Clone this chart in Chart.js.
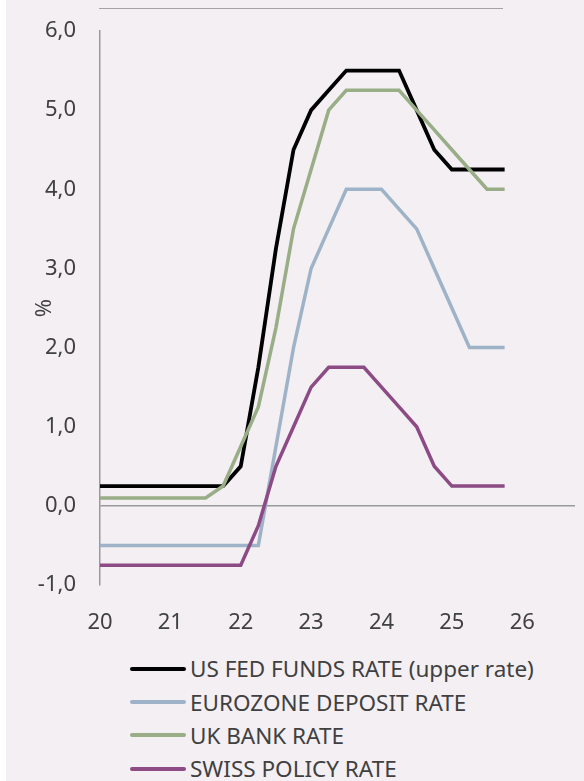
<!DOCTYPE html>
<html>
<head>
<meta charset="utf-8">
<script src="https://cdn.jsdelivr.net/npm/chart.js@4"></script>
<style>
  html, body { margin: 0; padding: 0; background: #ffffff; }
  #panel { position: absolute; left: 6px; top: 0; width: 578px; height: 781px; background: #f3eff3; overflow: hidden; }
  #topline { position: absolute; left: 93px; top: 8px; width: 404px; height: 0; border-top: 1.5px solid #a3a3a3; }
  #wrap { position: absolute; left: 0; top: 0; width: 578px; height: 650px; }
  #legend { position: absolute; left: 124px; top: 652px; font-family: "Noto Sans", sans-serif; font-size: 22.5px; color: #404040; }
  .item { height: 33.4px; display: flex; align-items: center; }
  .swatch { width: 56px; height: 4px; border-radius: 2px; margin-right: 4px; }
</style>
</head>
<body>
<div id="panel">
  <div id="topline"></div>
  <div id="wrap"><canvas id="chart"></canvas></div>
  <div id="legend"></div>
</div>
<script>
// quarters, 20 = Q1 2020
var quarters = [20, 20.25, 20.5, 20.75, 21, 21.25, 21.5, 21.75, 22, 22.25, 22.5, 22.75,
                23, 23.25, 23.5, 23.75, 24, 24.25, 24.5, 24.75, 25, 25.25, 25.5, 25.75];

var fedRate   = [0.25, 0.25, 0.25, 0.25, 0.25, 0.25, 0.25, 0.25, 0.5, 1.75, 3.25, 4.5,
                 5.0, 5.25, 5.5, 5.5, 5.5, 5.5, 5.0, 4.5, 4.25, 4.25, 4.25, 4.25];
var euroRate  = [-0.5, -0.5, -0.5, -0.5, -0.5, -0.5, -0.5, -0.5, -0.5, -0.5, 0.75, 2.0,
                 3.0, 3.5, 4.0, 4.0, 4.0, 3.75, 3.5, 3.0, 2.5, 2.0, 2.0, 2.0];
var ukRate    = [0.1, 0.1, 0.1, 0.1, 0.1, 0.1, 0.1, 0.25, 0.75, 1.25, 2.25, 3.5,
                 4.25, 5.0, 5.25, 5.25, 5.25, 5.25, 5.0, 4.75, 4.5, 4.25, 4.0, 4.0];
var swissRate = [-0.75, -0.75, -0.75, -0.75, -0.75, -0.75, -0.75, -0.75, -0.75, -0.25, 0.5, 1.0,
                 1.5, 1.75, 1.75, 1.75, 1.5, 1.25, 1.0, 0.5, 0.25, 0.25, 0.25, 0.25];

var seriesNames = ['US FED FUNDS RATE (upper rate)', 'EUROZONE DEPOSIT RATE', 'UK BANK RATE', 'SWISS POLICY RATE'];
var seriesColors = ['#000000', '#9fb3c8', '#99ad87', '#8c4b84'];
var yearTicks = [20, 21, 22, 23, 24, 25, 26];

function pts(vals) {
  var out = [];
  for (var i in vals) out.push({x: quarters[i], y: vals[i]});
  return out;
}

var allVals = [fedRate, euroRate, ukRate, swissRate];
var datasets = [];
for (var i = 0; i < allVals.length; i++) {
  datasets.push({
    label: seriesNames[i],
    data: pts(allVals[i]),
    borderColor: seriesColors[i],
    backgroundColor: seriesColors[i],
    borderWidth: i == 0 ? 3.8 : 3.5,
    pointRadius: 0,
    tension: 0,
    borderJoinStyle: 'miter',
    order: allVals.length - i
  });
}

var font = { family: '"Noto Sans", sans-serif', size: 22 };

var chart = new Chart(document.getElementById('chart'), {
  type: 'line',
  data: { datasets: datasets },
  options: {
    responsive: true,
    maintainAspectRatio: false,
    animation: false,
    layout: { padding: { top: 31, right: 9, left: 0, bottom: 0 } },
    plugins: { legend: { display: false }, tooltip: { enabled: false } },
    scales: {
      x: {
        type: 'linear',
        min: 20,
        max: 26.75,
        afterFit: function(s) { s.height = 65; },
        afterBuildTicks: function(s) { s.ticks = yearTicks.map(function(v){ return {value: v}; }); },
        ticks: { color: '#404040', font: font, padding: 25, maxRotation: 0,
                 callback: function(v) { return String(v); } },
        grid: { display: false, drawTicks: false },
        border: { display: false }
      },
      y: {
        min: -1,
        max: 6,
        afterFit: function(s) { s.width = 94; s.paddingTop = 0; s.paddingBottom = 0; },
        ticks: { stepSize: 1, color: '#404040', font: font, padding: 24,
                 callback: function(v) { return v.toFixed(1).replace('.', ','); } },
        grid: {
          drawTicks: false,
          lineWidth: 1.5,
          color: function(ctx) { return ctx.tick && ctx.tick.value === 0 ? '#9a9a9a' : 'rgba(0,0,0,0)'; }
        },
        border: { display: true, color: '#9a9a9a', width: 1.5 },
        title: { display: true, text: '%', color: '#404040', font: font, padding: { top: 26, bottom: 0 } }
      }
    }
  }
});

// legend built from the chart datasets
var legend = document.getElementById('legend');
chart.data.datasets.forEach(function(ds) {
  var row = document.createElement('div');
  row.className = 'item';
  var sw = document.createElement('div');
  sw.className = 'swatch';
  sw.style.background = ds.borderColor;
  var txt = document.createElement('span');
  txt.textContent = ds.label;
  row.appendChild(sw);
  row.appendChild(txt);
  legend.appendChild(row);
});
</script>
</body>
</html>
